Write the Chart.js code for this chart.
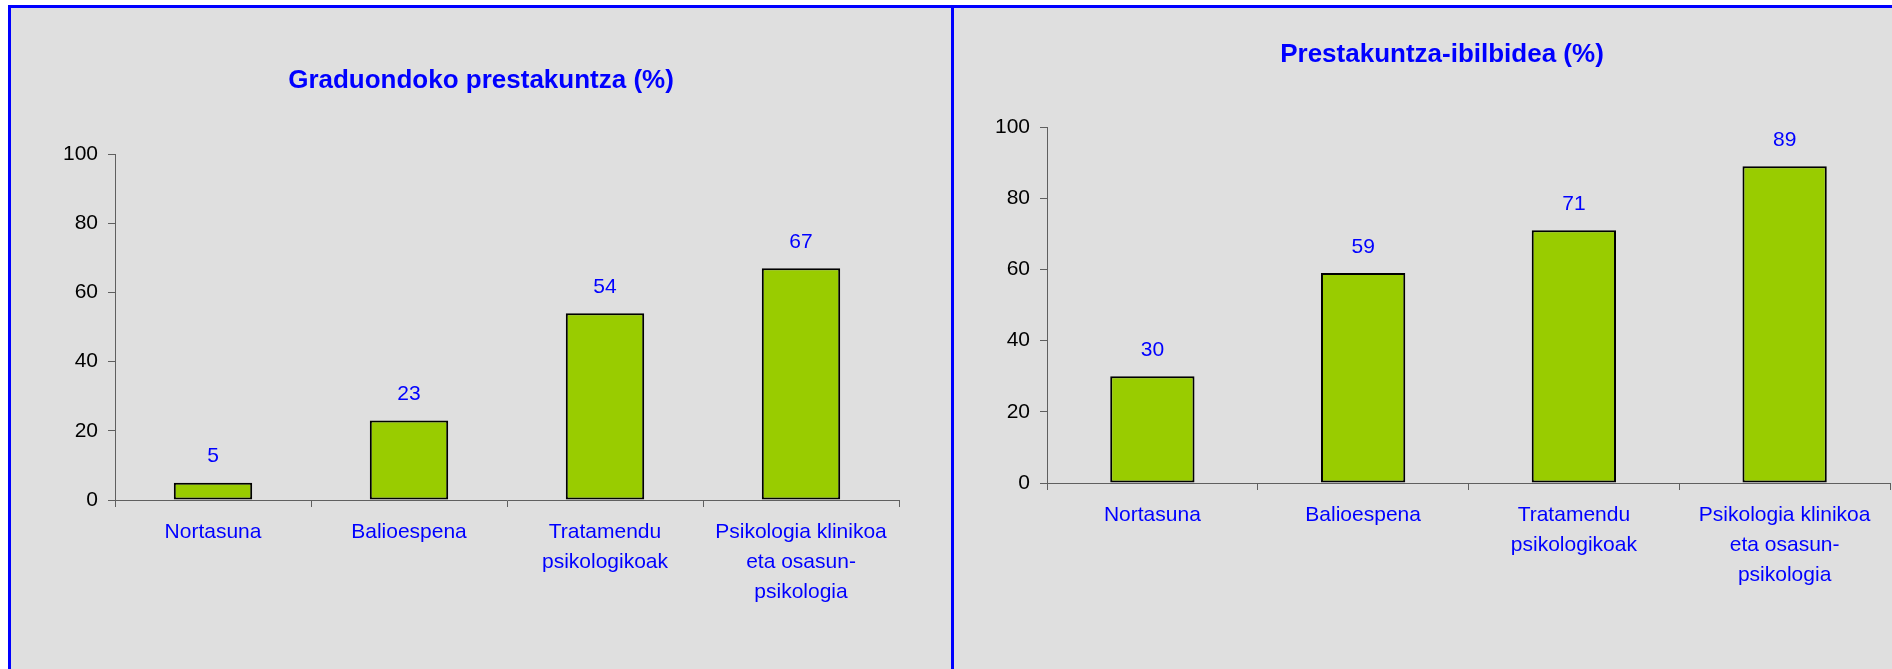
<!DOCTYPE html>
<html>
<head>
<meta charset="utf-8">
<script src="https://cdn.jsdelivr.net/npm/chart.js@4/dist/chart.umd.min.js"></script>
<style>
  html, body { margin: 0; padding: 0; background: #fff; width: 1892px; height: 669px; overflow: hidden; position: relative; }
  .frame { position: absolute; left: 8px; top: 5px; width: 2000px; height: 700px; background: #dfdfdf; border-top: 3px solid #0000ff; border-left: 3px solid #0000ff; }
  .divider { position: absolute; left: 951px; top: 5px; width: 3px; height: 700px; background: #0000ff; }
  canvas { position: absolute; }
</style>
</head>
<body>
<div class="frame"></div>
<div class="divider"></div>
<canvas id="left-chart" width="940" height="661" style="left:11px;top:8px;"></canvas>
<canvas id="right-chart" width="976" height="661" style="left:954px;top:8px;"></canvas>
<script>
const categories = ['Nortasuna', 'Balioespena', ['Tratamendu', 'psikologikoak'], ['Psikologia klinikoa', 'eta osasun-', 'psikologia']];
const graduondoko = [5, 23, 54, 67];
const ibilbidea = [30, 59, 71, 89];
const yTicks = [0, 20, 40, 60, 80, 100];

const FONT = "'Liberation Sans', Arial, sans-serif";
const BLUE = '#0000ff';
const AXIS = '#5f5f5f';

// draws the value above each bar
const valueLabels = {
  id: 'valueLabels',
  afterDatasetsDraw(chart) {
    const ctx = chart.ctx;
    ctx.save();
    ctx.font = `21px ${FONT}`;
    ctx.fillStyle = BLUE;
    ctx.textAlign = 'center';
    ctx.textBaseline = 'middle';
    chart.getDatasetMeta(0).data.forEach((bar, i) => {
      ctx.fillText(String(chart.data.datasets[0].data[i]), bar.x, bar.y - 26);
    });
    ctx.restore();
  },
};

function buildChart(id, title, data, dims) {
  return new Chart(document.getElementById(id), {
    type: 'bar',
    data: {
      labels: categories,
      datasets: [{
        data,
        backgroundColor: '#99cc00',
        borderColor: '#000000',
        borderWidth: 2,
        borderSkipped: false,
        categoryPercentage: 1,
        barPercentage: 0.4,
      }],
    },
    options: {
      responsive: false,
      animation: false,
      layout: { padding: 0 },
      plugins: {
        legend: { display: false },
        tooltip: { enabled: false },
        title: {
          display: true,
          text: title,
          color: BLUE,
          font: { family: FONT, size: 26, weight: 'bold', lineHeight: 1.2 },
          padding: { top: dims.titleTop, bottom: dims.titleBottom },
        },
      },
      scales: {
        x: {
          afterFit: (s) => { s.height = dims.xHeight; },
          grid: { display: true, drawOnChartArea: false, drawTicks: true, tickLength: 7, color: AXIS, offset: true },
          border: { display: true, color: AXIS, width: 1 },
          ticks: { color: BLUE, padding: 10, maxRotation: 0, autoSkip: false, font: { family: FONT, size: 21, lineHeight: 30 / 21 } },
        },
        y: {
          min: 0,
          max: 100,
          afterFit: (s) => { s.width = dims.yWidth; },
          afterBuildTicks: (s) => { s.ticks = yTicks.map((v) => ({ value: v })); },
          grid: { display: true, drawOnChartArea: false, drawTicks: true, tickLength: 7, color: AXIS },
          border: { display: true, color: AXIS, width: 1 },
          ticks: { color: '#000000', padding: 10, font: { family: FONT, size: 21 } },
        },
        // empty space on the right, kept out of the title box
        spacer: {
          type: 'linear',
          position: 'right',
          afterFit: (s) => { s.width = dims.padRight; },
          grid: { display: false },
          border: { display: false },
          ticks: { display: false },
        },
      },
    },
    plugins: [valueLabels],
  });
}

buildChart('left-chart', 'Graduondoko prestakuntza (%)', graduondoko, {
  padRight: 52, yWidth: 104, xHeight: 169, titleTop: 57.4, titleBottom: 57.4,
});
buildChart('right-chart', 'Prestakuntza-ibilbidea (%)', ibilbidea, {
  padRight: 40, yWidth: 93, xHeight: 186, titleTop: 31, titleBottom: 56.8,
});
</script>
</body>
</html>
